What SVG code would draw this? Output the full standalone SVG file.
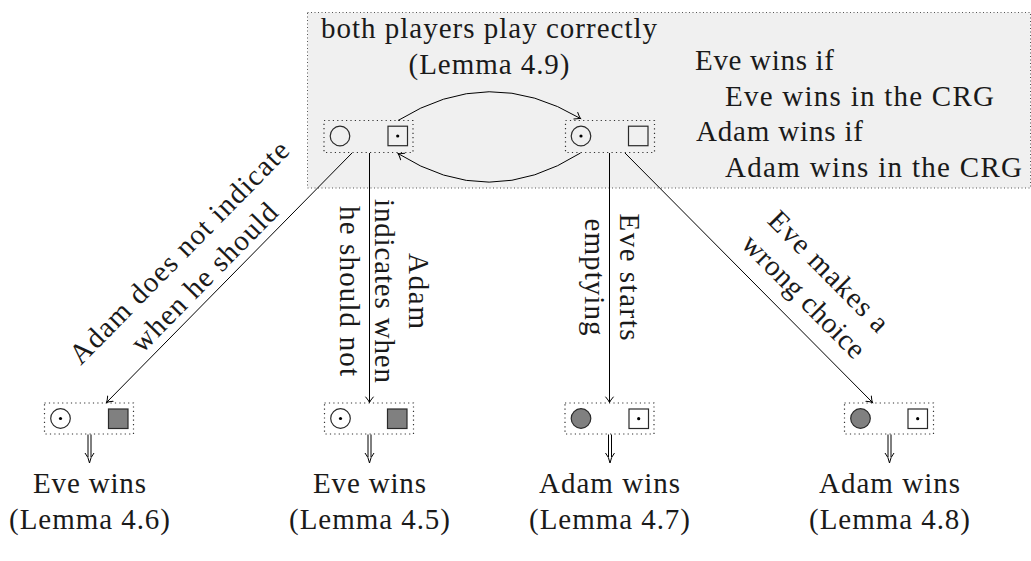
<svg xmlns="http://www.w3.org/2000/svg" width="1031" height="561" viewBox="0 0 1031 561">
<defs>
<marker id="arr" markerUnits="userSpaceOnUse" markerWidth="12" markerHeight="12" viewBox="-7 -6 8 12" refX="0" refY="0" orient="auto" overflow="visible">
<path d="M -5.5 -3.8 Q -2 -0.8 0 0 Q -2 0.8 -5.5 3.8" fill="none" stroke="#000" stroke-width="1" stroke-linecap="round"/>
</marker>
</defs>
<style>
text{font-size:29px;fill:#1a1a1a}
.mid{text-anchor:middle}
.nb{fill:none;stroke:#333;stroke-width:1.2;stroke-dasharray:1.2 3.2}
.sh{fill:none;stroke:#2a2a2a;stroke-width:1.2}
.gf{fill:#808080;stroke:#2a2a2a;stroke-width:1.2}
.ln{fill:none;stroke:#000;stroke-width:1;marker-end:url(#arr)}
.dl{fill:none;stroke:#000;stroke-width:1}
</style>
<g font-family="'Liberation Serif', 'DejaVu Serif', 'Times New Roman', serif">
<g id="region">
<rect x="307.5" y="12.5" width="723" height="175.5" fill="#f0f0f0" stroke="#555" stroke-width="1" stroke-dasharray="1 2.5"/>
<text class="mid" x="489" y="38" textLength="336">both players play correctly</text>
<text class="mid" x="489" y="74" textLength="161">(Lemma 4.9)</text>
<text x="695" y="70" textLength="139">Eve wins if</text>
<text x="725" y="106" textLength="269">Eve wins in the CRG</text>
<text x="696" y="141" textLength="167">Adam wins if</text>
<text x="725" y="177" textLength="297">Adam wins in the CRG</text>
</g>
<g id="n1">
<rect class="nb" x="324" y="120.5" width="89" height="32"/>
<circle class="sh" cx="340" cy="136" r="9.8"/>
<rect class="sh" x="388" y="126.2" width="19.5" height="19.5"/>
<circle cx="397.7" cy="136" r="1.6" fill="#000"/>
</g>
<g id="n2">
<rect class="nb" x="565.5" y="120.5" width="89" height="32"/>
<circle class="sh" cx="581" cy="136" r="9.8"/>
<circle cx="581" cy="136" r="1.6" fill="#000"/>
<rect class="sh" x="628.5" y="126.2" width="19.5" height="19.5"/>
</g>
<g id="n3">
<rect class="nb" x="44.5" y="403" width="89" height="31"/>
<circle class="sh" cx="60.5" cy="418.5" r="9.8"/>
<circle cx="60.5" cy="418.5" r="1.6" fill="#000"/>
<rect class="gf" x="108.5" y="409" width="19.5" height="19.5"/>
<text class="mid" x="89.5" y="493" textLength="113">Eve wins</text>
<text class="mid" x="89.5" y="529" textLength="161">(Lemma 4.6)</text>
</g>
<g id="n4">
<rect class="nb" x="324.5" y="403" width="89" height="31"/>
<circle class="sh" cx="340.5" cy="418.5" r="9.8"/>
<circle cx="340.5" cy="418.5" r="1.6" fill="#000"/>
<rect class="gf" x="387.5" y="409" width="19.5" height="19.5"/>
<text class="mid" x="369.5" y="493" textLength="113">Eve wins</text>
<text class="mid" x="369.5" y="529" textLength="161">(Lemma 4.5)</text>
</g>
<g id="n5">
<rect class="nb" x="565" y="403" width="89" height="31"/>
<circle class="gf" cx="581" cy="418.5" r="9.8"/>
<rect class="sh" x="629" y="409" width="19.5" height="19.5"/>
<circle cx="638.7" cy="418.7" r="1.6" fill="#000"/>
<text class="mid" x="609.5" y="493" textLength="141">Adam wins</text>
<text class="mid" x="609.5" y="529" textLength="161">(Lemma 4.7)</text>
</g>
<g id="n6">
<rect class="nb" x="844.5" y="403" width="89" height="31"/>
<circle class="gf" cx="860.5" cy="418.5" r="9.8"/>
<rect class="sh" x="908" y="409" width="19.5" height="19.5"/>
<circle cx="917.7" cy="418.7" r="1.6" fill="#000"/>
<text class="mid" x="889.5" y="493" textLength="141">Adam wins</text>
<text class="mid" x="889.5" y="529" textLength="161">(Lemma 4.8)</text>
</g>
<g id="connectors">
<path class="ln" d="M 398 120.5 Q 489 64 580.5 118.5"/>
<path class="ln" d="M 580.5 153 Q 489 211 398 153.5"/>
<path class="ln" d="M 352 153 L 106.5 402.5"/>
<path class="ln" d="M 369.5 153 L 369.5 402.5"/>
<path class="ln" d="M 609.5 153 L 609.5 402.5"/>
<path class="ln" d="M 625 153 L 872.5 402.5"/>
<g id="implies">
<path class="dl" d="M 88 434.5 V 457 M 91 434.5 V 457 M 85 453 Q 88.5 457 89.5 463 Q 90.5 457 94 453"/>
<path class="dl" d="M 368 434.5 V 457 M 371 434.5 V 457 M 365 453 Q 368.5 457 369.5 463 Q 370.5 457 374 453"/>
<path class="dl" d="M 608.5 434.5 V 457 M 611.5 434.5 V 457 M 605.5 453 Q 609 457 610 463 Q 611 457 614.5 453"/>
<path class="dl" d="M 888 434.5 V 457 M 891 434.5 V 457 M 885 453 Q 888.5 457 889.5 463 Q 890.5 457 894 453"/>
</g>
<g id="labels">
<text class="mid" transform="translate(186,259) rotate(-45.5)" textLength="300">Adam does not indicate</text>
<text class="mid" transform="translate(211,284) rotate(-45.5)" textLength="196">when he should</text>
<text class="mid" transform="translate(409,291) rotate(90)" textLength="76">Adam</text>
<text class="mid" transform="translate(375,291) rotate(90)" textLength="184">indicates when</text>
<text class="mid" transform="translate(340,291) rotate(90)" textLength="170">he should not</text>
<text class="mid" transform="translate(620,277) rotate(90)" textLength="127">Eve starts</text>
<text class="mid" transform="translate(585,277) rotate(90)" textLength="117">emptying</text>
<text class="mid" transform="translate(822,278) rotate(45.2)" textLength="158">Eve makes a</text>
<text class="mid" transform="translate(797,303) rotate(45.2)" textLength="162">wrong choice</text>
</g>
</g>
</g>
</svg>
